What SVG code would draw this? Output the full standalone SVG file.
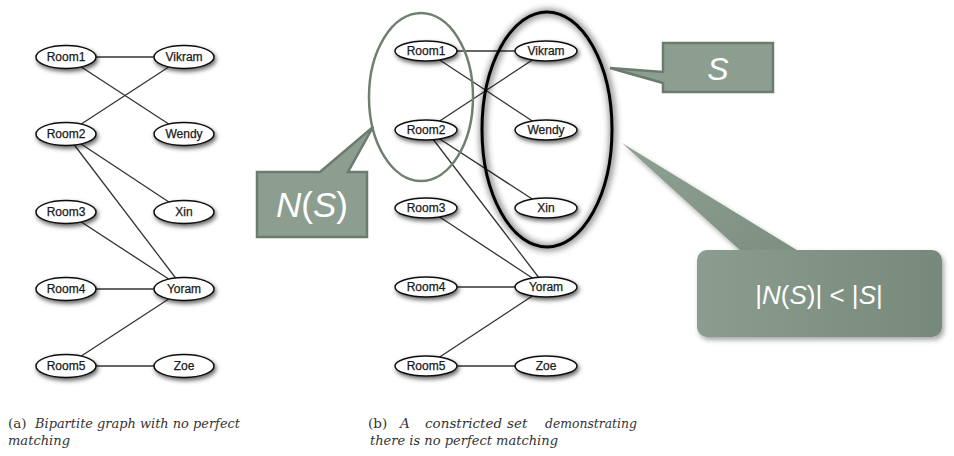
<svg xmlns="http://www.w3.org/2000/svg" width="954" height="456" viewBox="0 0 954 456">
<defs>
<filter id="sh" x="-30%" y="-50%" width="160%" height="220%">
<feDropShadow dx="1.5" dy="2.5" stdDeviation="2.2" flood-color="#000" flood-opacity="0.6"/>
</filter>
<filter id="glow" x="-20%" y="-20%" width="140%" height="140%">
<feGaussianBlur stdDeviation="3"/>
</filter>
<filter id="boxsh" x="-10%" y="-10%" width="125%" height="130%">
<feDropShadow dx="2" dy="3" stdDeviation="2.5" flood-color="#000" flood-opacity="0.35"/>
</filter>
<linearGradient id="bg" x1="0" y1="0" x2="1" y2="0">
<stop offset="0" stop-color="#8b9d8f"/>
<stop offset="1" stop-color="#76897b"/>
</linearGradient>
<linearGradient id="pg" x1="0" y1="0" x2="1" y2="1">
<stop offset="0" stop-color="#8fa192"/>
<stop offset="1" stop-color="#7c8f80"/>
</linearGradient>
</defs>
<style>
.node ellipse{fill:#fff;stroke:#111;stroke-width:1.5;filter:url(#sh)}
.node text{font-family:"Liberation Sans",Arial,sans-serif;font-size:12px;text-anchor:middle;fill:#1a1a1a;stroke:#1a1a1a;stroke-width:0.25}
.edges line{stroke:#333;stroke-width:1.3}
.callout{fill:#8c9e8f;stroke:#6b7b6d;stroke-width:2.5;stroke-linejoin:miter}
.ct{font-family:"Liberation Sans",Arial,sans-serif;fill:#fff;text-anchor:middle}
.cap{font-family:"DejaVu Serif","Liberation Serif",serif;font-size:13.5px;fill:#333}
</style>
<rect width="954" height="456" fill="#fff"/>

<!-- Left graph (a) -->
<g id="edges-a" class="edges">
<line x1="66" y1="57" x2="184" y2="57"/>
<line x1="66" y1="57" x2="184" y2="134"/>
<line x1="66" y1="134" x2="184" y2="57"/>
<line x1="66" y1="134" x2="184" y2="212"/>
<line x1="66" y1="134" x2="184" y2="289"/>
<line x1="66" y1="212" x2="184" y2="289"/>
<line x1="66" y1="289" x2="184" y2="289"/>
<line x1="66" y1="366" x2="184" y2="289"/>
<line x1="66" y1="366" x2="184" y2="366"/>
</g>
<g id="a-room1" class="node"><ellipse cx="66" cy="57" rx="30" ry="11.5"/><text x="66" y="61">Room1</text></g>
<g id="a-room2" class="node"><ellipse cx="66" cy="134" rx="30" ry="11.5"/><text x="66" y="138">Room2</text></g>
<g id="a-room3" class="node"><ellipse cx="66" cy="212" rx="30" ry="11.5"/><text x="66" y="216">Room3</text></g>
<g id="a-room4" class="node"><ellipse cx="66" cy="289" rx="30" ry="11.5"/><text x="66" y="293">Room4</text></g>
<g id="a-room5" class="node"><ellipse cx="66" cy="366" rx="30" ry="11.5"/><text x="66" y="370">Room5</text></g>
<g id="a-vikram" class="node"><ellipse cx="184" cy="57" rx="30" ry="11.5"/><text x="184" y="61">Vikram</text></g>
<g id="a-wendy" class="node"><ellipse cx="184" cy="134" rx="30" ry="11.5"/><text x="184" y="138">Wendy</text></g>
<g id="a-xin" class="node"><ellipse cx="184" cy="212" rx="30" ry="11.5"/><text x="184" y="216">Xin</text></g>
<g id="a-yoram" class="node"><ellipse cx="184" cy="289" rx="30" ry="11.5"/><text x="184" y="293">Yoram</text></g>
<g id="a-zoe" class="node"><ellipse cx="184" cy="366" rx="30" ry="11.5"/><text x="184" y="370">Zoe</text></g>

<!-- Right graph (b) -->
<g id="edges-b" class="edges">
<line x1="426" y1="51" x2="546" y2="51"/>
<line x1="426" y1="51" x2="546" y2="130"/>
<line x1="426" y1="130" x2="546" y2="51"/>
<line x1="426" y1="130" x2="546" y2="208"/>
<line x1="426" y1="130" x2="546" y2="287"/>
<line x1="426" y1="208" x2="546" y2="287"/>
<line x1="426" y1="287" x2="546" y2="287"/>
<line x1="426" y1="366" x2="546" y2="287"/>
<line x1="426" y1="366" x2="546" y2="366"/>
</g>
<g id="b-room1" class="node"><ellipse cx="426" cy="51" rx="31" ry="10"/><text x="426" y="55">Room1</text></g>
<g id="b-room2" class="node"><ellipse cx="426" cy="130" rx="31" ry="10"/><text x="426" y="134">Room2</text></g>
<g id="b-room3" class="node"><ellipse cx="426" cy="208" rx="31" ry="10"/><text x="426" y="212">Room3</text></g>
<g id="b-room4" class="node"><ellipse cx="426" cy="287" rx="31" ry="10"/><text x="426" y="291">Room4</text></g>
<g id="b-room5" class="node"><ellipse cx="426" cy="366" rx="31" ry="10"/><text x="426" y="370">Room5</text></g>
<g id="b-vikram" class="node"><ellipse cx="546" cy="51" rx="31" ry="10"/><text x="546" y="55">Vikram</text></g>
<g id="b-wendy" class="node"><ellipse cx="546" cy="130" rx="31" ry="10"/><text x="546" y="134">Wendy</text></g>
<g id="b-xin" class="node"><ellipse cx="546" cy="208" rx="31" ry="10"/><text x="546" y="212">Xin</text></g>
<g id="b-yoram" class="node"><ellipse cx="546" cy="287" rx="31" ry="10"/><text x="546" y="291">Yoram</text></g>
<g id="b-zoe" class="node"><ellipse cx="546" cy="366" rx="31" ry="10"/><text x="546" y="370">Zoe</text></g>

<!-- Set ellipses -->
<g id="set-NS">
<ellipse cx="421" cy="97" rx="52" ry="84" fill="none" stroke="#6f8071" stroke-width="2.5"/>
</g>
<g id="set-S">
<ellipse cx="548" cy="130" rx="65" ry="117.5" fill="none" stroke="#000" stroke-opacity="0.45" stroke-width="7" filter="url(#glow)"/>
<ellipse cx="547" cy="129.5" rx="65" ry="117.5" fill="none" stroke="#000" stroke-width="3"/>
</g>

<!-- Callouts -->
<g id="callout-NS">
<path class="callout" d="M257,172 L320,172 L373,127 L348,172 L367,172 L367,237 L257,237 Z"/>
<text class="ct" x="312" y="217" font-size="35px"><tspan font-style="italic">N</tspan>(<tspan font-style="italic">S</tspan>)</text>
</g>
<g id="callout-S">
<path class="callout" d="M663,43 L773,43 L773,92 L663,92 L663,83 L610,68 L663,72 Z"/>
<text class="ct" x="718" y="80" font-size="32px" font-style="italic">S</text>
</g>
<g id="callout-ineq">
<g filter="url(#boxsh)">
<path d="M622,143 L742,252 L800,252 Z" fill="url(#pg)"/>
<rect x="697" y="250" width="245" height="87" rx="10" fill="url(#bg)"/>
</g>
<text class="ct" x="819" y="304" font-size="26px">|<tspan font-style="italic">N</tspan>(<tspan font-style="italic">S</tspan>)| &lt; |<tspan font-style="italic">S</tspan>|</text>
</g>

<!-- Captions -->
<g id="caption-a" class="cap">
<text x="8" y="428">(a)</text>
<text x="35" y="428" font-style="italic" textLength="205" lengthAdjust="spacingAndGlyphs">Bipartite graph with no perfect</text>
<text x="8" y="445" font-style="italic" textLength="62" lengthAdjust="spacingAndGlyphs">matching</text>
</g>
<g id="caption-b" class="cap">
<text x="368" y="428">(b)</text>
<text y="428" font-style="italic"><tspan x="400">A</tspan><tspan x="425">constricted</tspan><tspan x="507">set</tspan><tspan x="545" textLength="92" lengthAdjust="spacingAndGlyphs">demonstrating</tspan></text>
<text x="370" y="445" font-style="italic" textLength="188" lengthAdjust="spacingAndGlyphs">there is no perfect matching</text>
</g>
</svg>
